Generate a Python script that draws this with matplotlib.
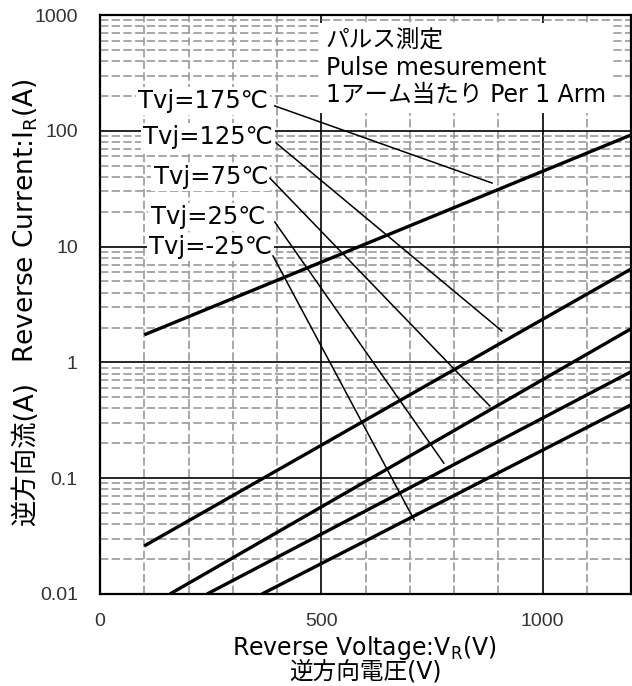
import matplotlib
matplotlib.use("Agg")
import matplotlib.pyplot as plt
from matplotlib.ticker import FixedLocator, LogLocator, NullFormatter, FixedFormatter

plt.rcParams['font.family'] = ['DejaVu Sans', 'Noto Sans CJK JP']

# Data
V_175 = [100, 1200]; I_175 = [1.73, 92]
V_125 = [100, 1200]; I_125 = [0.026, 6.4]
V_75 = [158, 1200];  I_75 = [0.01, 1.95]
V_25 = [242, 1200];  I_25 = [0.01, 0.83]
V_m25 = [366, 1200]; I_m25 = [0.01, 0.43]

labels = ["Tvj=175℃", "Tvj=125℃", "Tvj=75℃", "Tvj=25℃", "Tvj=-25℃"]
label_x = [380, 391, 380, 373, 389]
label_y = [181, 88, 40, 18, 9.9]
ann_start_V = [395, 398, 384, 395, 391]
ann_start_I = [164, 78.5, 39, 16.3, 8.3]
ann_end_V = [886, 908, 881, 777, 710]
ann_end_I = [35.4, 1.87, 0.42, 0.135, 0.0436]

y_ticks = [0.01, 0.1, 1, 10, 100, 1000]
y_ticklabels = ["0.01", "0.1", "1", "10", "100", "1000"]
x_ticks = [0, 500, 1000]
x_ticklabels = ["0", "500", "1000"]

fig = plt.figure(figsize=(6.32, 6.86), dpi=100)
ax = fig.add_axes([100/632, (686-594)/686, 531/632, 579/686])
ax.set_yscale('log')
ax.set_xlim(0, 1200)
ax.set_ylim(0.01, 1000)

ax.xaxis.set_major_locator(FixedLocator(x_ticks))
ax.xaxis.set_major_formatter(FixedFormatter(x_ticklabels))
ax.xaxis.set_minor_locator(FixedLocator([v for v in range(100, 1200, 100) if v % 500 != 0]))
ax.yaxis.set_major_locator(FixedLocator(y_ticks))
ax.yaxis.set_major_formatter(FixedFormatter(y_ticklabels))
ax.yaxis.set_minor_locator(LogLocator(base=10, subs=range(2, 10)))
ax.yaxis.set_minor_formatter(NullFormatter())

ax.grid(which='minor', color='#9a9a9a', linestyle=(0, (5, 2)), linewidth=1.2, zorder=1)
ax.grid(which='major', color='black', linestyle='-', linewidth=1.2, zorder=1)
ax.set_axisbelow(True)
ax.tick_params(which='both', length=0)
ax.tick_params(axis='y', pad=16, labelsize=14, labelcolor='#333333')
ax.tick_params(axis='x', pad=14, labelsize=14, labelcolor='#333333')
for lab in ax.get_xticklabels() + ax.get_yticklabels():
    lab.set_family('Liberation Sans')
for s in ax.spines.values():
    s.set_linewidth(1.6)

for V, I in [(V_175, I_175), (V_125, I_125), (V_75, I_75), (V_25, I_25), (V_m25, I_m25)]:
    ax.plot(V, I, color='black', linewidth=2.4, solid_capstyle='butt', zorder=4)

for i in range(5):
    ax.plot([ann_start_V[i], ann_end_V[i]], [ann_start_I[i], ann_end_I[i]],
            color='black', linewidth=1.1, zorder=4)
    ax.text(label_x[i], label_y[i], labels[i], ha='right', va='center', fontsize=17.5,
            color='black', zorder=3,
            bbox=dict(facecolor='white', edgecolor='none', pad=1.5))

ax.text(510, 10**2.54, "パルス測定\nPulse mesurement\n1アーム当たり Per 1 Arm",
        ha='left', va='center', fontsize=17, linespacing=1.17, zorder=3,
        bbox=dict(facecolor='white', edgecolor='none', pad=4))

fig.text(365/632, (686-655)/686, r"Reverse Voltage:V$_\mathregular{R}$(V)",
         ha='center', va='baseline', fontsize=17)
fig.text(365/632, (686-679)/686, "逆方向電圧(V)", ha='center', va='baseline', fontsize=17)

fig.text(26/632, (686-221)/686, r"Reverse Current:I$_\mathregular{R}$(A)",
         ha='center', va='center', rotation=90, fontsize=19)
fig.text(26/632, (686-454)/686, "逆方向流(A)",
         ha='center', va='center', rotation=90, fontsize=19)

fig.savefig("out.png", dpi=100)
